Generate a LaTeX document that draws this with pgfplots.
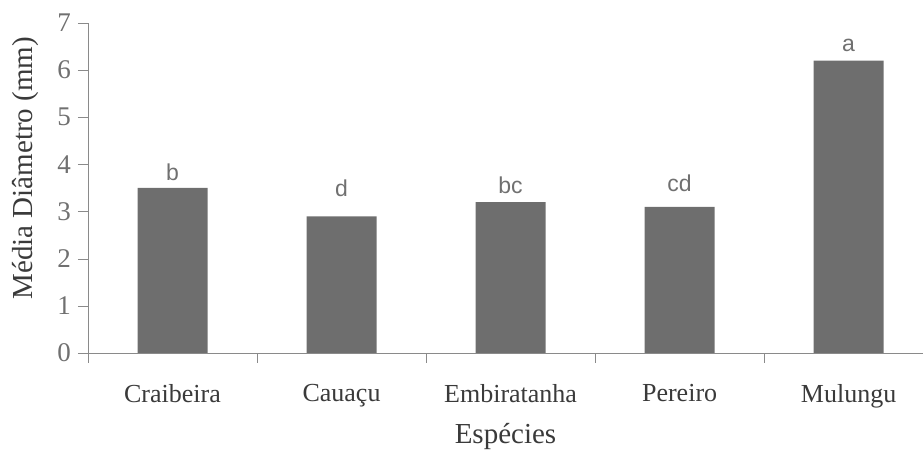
\documentclass[border=0pt]{standalone}
\usepackage{fontspec}
\setmainfont{Liberation Serif}
\newfontfamily\arialf{Liberation Sans}
\usepackage{pgfplots}
\pgfplotsset{compat=1.18}
\definecolor{barc}{HTML}{6E6E6E}
\definecolor{axc}{HTML}{8A8A8A}
\definecolor{txc}{HTML}{3A3A3A}
\definecolor{letc}{HTML}{707070}
\begin{document}
\begin{tikzpicture}
\begin{axis}[
  name=ax,
  scale only axis,
  width=417.5pt, height=165pt,
  xmin=-0.5, xmax=4.44,
  ymin=0, ymax=7,
  ytick={0,...,7},
  xtick={0,1,2,3,4},
  xticklabels={Craibeira,Cauaçu,Embiratanha,Pereiro,Mulungu},
  minor xtick={-0.5,0.5,1.5,2.5,3.5},
  axis x line*=bottom,
  axis y line*=left,
  axis line style={axc,-},
  major tick style={axc},
  minor tick style={axc},
  tick align=outside,
  x tick style={draw=none},
  minor x tick style={draw=axc},
  minor tick length=5pt,
  major tick length=5pt,
  /pgf/number format/assume math mode=true,
  ticklabel style={font=\fontsize{13}{15}\selectfont, text=txc},
  yticklabel style={text=letc, font=\fontsize{13.5}{15}\selectfont},
  xticklabel style={yshift=-7pt},
  ylabel={Média Diâmetro (mm)},
  xlabel={Espécies},
  label style={font=\fontsize{14.5}{16}\selectfont, text=txc},
  ylabel style={at={(axis description cs:-0.075,0.56)}, anchor=center},
  xlabel style={at={(axis description cs:0.5,0)}, anchor=center, yshift=-42pt},
  clip=false,
]
\addplot[ybar, bar width=35pt, fill=barc, draw=none] coordinates {
  (0,3.5) (1,2.9) (2,3.2) (3,3.1) (4,6.2)
};
\node[font=\arialf\fontsize{11.5}{13}\selectfont, text=letc] at (axis cs:0,3.84) {b};
\node[font=\arialf\fontsize{11.5}{13}\selectfont, text=letc] at (axis cs:1,3.50) {d};
\node[font=\arialf\fontsize{11.5}{13}\selectfont, text=letc] at (axis cs:2,3.56) {bc};
\node[font=\arialf\fontsize{11.5}{13}\selectfont, text=letc] at (axis cs:3,3.61) {cd};
\node[font=\arialf\fontsize{11.5}{13}\selectfont, text=letc] at (axis cs:4,6.53) {a};
\end{axis}
\pgfresetboundingbox
\path[use as bounding box] ([shift={(-44pt,-54pt)}]ax.south west) rectangle ([shift={(0pt,11.5pt)}]ax.north east);
\end{tikzpicture}
\end{document}
